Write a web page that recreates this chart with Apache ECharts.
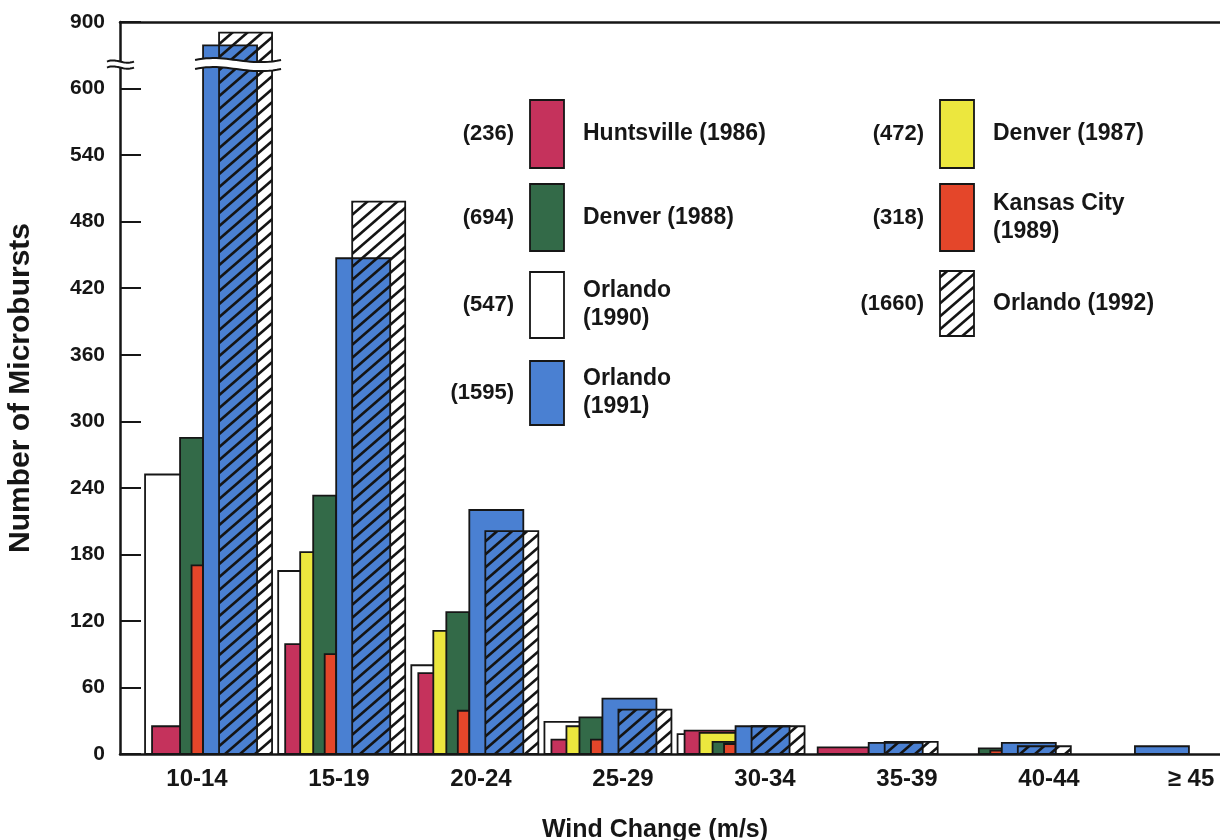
<!DOCTYPE html>
<html>
<head>
<meta charset="utf-8">
<script src="https://cdn.jsdelivr.net/npm/echarts@6/dist/echarts.min.js"></script>
<style>
  html, body { margin: 0; padding: 0; background: #ffffff; }
  #chart { width: 1220px; height: 840px; }
</style>
</head>
<body>
<div id="chart"></div>
<script>
// Wind-change classes (m/s)
const categories = ['10-14', '15-19', '20-24', '25-29', '30-34', '35-39', '40-44', '\u2265 45'];

// Microburst counts per wind-change class, one array per site/year
const orlando1990    = [252, 165, 80, 29, 18, 0, 0, 0];
const huntsville1986 = [25, 99, 73, 13, 21, 6, 0, 0];
const denver1987     = [0, 182, 111, 25, 19, 0, 0, 0];
const denver1988     = [285, 233, 128, 33, 11, 0, 5, 0];
const kansasCity1989 = [170, 90, 39, 13, 9, 0, 3, 0];
const orlando1991    = [795, 447, 220, 50, 25, 10, 10, 7];
const orlando1992    = [852, 498, 201, 40, 25, 11, 7, 0];

// Legend entries: label and total number of events
const legendLabels = ['Huntsville (1986)', 'Denver (1988)', 'Orlando\n(1990)', 'Orlando\n(1991)',
                      'Denver (1987)', 'Kansas City\n(1989)', 'Orlando (1992)'];
const legendTotals = [236, 694, 547, 1595, 472, 318, 1660];

// y-axis tick values; the axis is broken above 600 and resumes at 900
const yTickValues = [0, 60, 120, 180, 240, 300, 360, 420, 480, 540, 600, 900];

// ---- axis break: values above 600 are squeezed so 600..900 spans one tick step
const BREAK_AT = 600;
const STEP = 60;
const TOP_VALUE = yTickValues[yTickValues.length - 1];
const SQUEEZE = (TOP_VALUE - BREAK_AT) / STEP;
const toAxis = v => (v <= BREAK_AT ? v : BREAK_AT + (v - BREAK_AT) / SQUEEZE);
const AXIS_MAX = toAxis(TOP_VALUE);

// diagonal hatch used for Orlando (1992)
function makeHatch() {
  const w = 15, h = 13;
  const c = document.createElement('canvas');
  c.width = w; c.height = h;
  const g = c.getContext('2d');
  g.strokeStyle = '#141414';
  g.lineWidth = 2.6;
  g.lineCap = 'square';
  const seg = (x0, y0, x1, y1) => { g.beginPath(); g.moveTo(x0, y0); g.lineTo(x1, y1); g.stroke(); };
  seg(0, h, w, 0);
  seg(-w, h, 0, 0);
  seg(w, h, 2 * w, 0);
  return c;
}
const hatchFill = { image: makeHatch(), repeat: 'repeat' };

const FONT = '"Liberation Sans", Arial, Helvetica, sans-serif';
const INK = '#161616';

// drawing order (back to front) and horizontal placement inside each class, px from class centre
const barSpecs = [
  { name: 'Orlando (1990)',     values: orlando1990,    fill: '#ffffff', l: -64.5, r: -6.5 },
  { name: 'Huntsville (1986)',  values: huntsville1986, fill: '#c5325c', l: -57.5, r: -6.5 },
  { name: 'Denver (1987)',      values: denver1987,     fill: '#ece73e', l: -42.5, r: -6.5 },
  { name: 'Denver (1988)',      values: denver1988,     fill: '#336a48', l: -29.5, r: -6.5 },
  { name: 'Kansas City (1989)', values: kansasCity1989, fill: '#e4462a', l: -18,   r: -6.5 },
  { name: 'Orlando (1991)',     values: orlando1991,    fill: '#4a80d2', l: -6.5,  r: 47.5 },
  { name: 'Orlando (1992)',     values: orlando1992,    fill: hatchFill, l: 9.5,   r: 62.5 }
];

const series = barSpecs.map(spec => ({
  type: 'custom',
  name: spec.name,
  coordinateSystem: 'cartesian2d',
  xAxisIndex: 3,
  yAxisIndex: 2,
  encode: { x: 0, y: 1 },
  data: spec.values.map((v, i) => [i, toAxis(v)]),
  renderItem: (params, api) => {
    const v = api.value(1);
    if (!(v > 0)) return null;
    const base = api.coord([api.value(0), 0]);
    const top = api.coord([api.value(0), v]);
    const x0 = base[0] + spec.l, x1 = base[0] + spec.r;
    return {
      type: 'rect',
      shape: { x: x0, y: top[1], width: x1 - x0, height: base[1] - top[1] },
      style: { fill: spec.fill, stroke: INK, lineWidth: 1.8 }
    };
  }
}));

const GRID_TOP = 22, GRID_BOTTOM = 86;

const chart = echarts.init(document.getElementById('chart'), null, { renderer: 'canvas' });

chart.setOption({
  animation: false,
  backgroundColor: '#ffffff',
  grid: [
    { left: 120, right: 0, top: GRID_TOP, bottom: GRID_BOTTOM, outerBoundsMode: 'none' },     // frame and y axis
    { left: 126, width: 1136, top: GRID_TOP, bottom: GRID_BOTTOM, outerBoundsMode: 'none' },  // class labels
    { left: 143, width: 1065, top: GRID_TOP, bottom: GRID_BOTTOM, outerBoundsMode: 'none' }   // bars
  ],
  xAxis: [
    {
      gridIndex: 0, type: 'value', min: 0, max: 1, position: 'bottom',
      axisLine: { show: true, onZero: false, lineStyle: { color: INK, width: 2.5 } },
      axisTick: { show: false }, axisLabel: { show: false }, splitLine: { show: false },
      name: 'Wind Change (m/s)', nameLocation: 'middle', nameGap: 64,
      nameTextStyle: { fontFamily: FONT, fontWeight: 'bold', fontSize: 25, color: INK, padding: [0, 30, 0, 0] }
    },
    {
      gridIndex: 0, type: 'value', min: 0, max: 1, position: 'top',
      axisLine: { show: true, onZero: false, lineStyle: { color: INK, width: 2.5 } },
      axisTick: { show: false }, axisLabel: { show: false }, splitLine: { show: false }
    },
    {
      gridIndex: 1, type: 'category', data: categories,
      axisLine: { show: false }, axisTick: { show: false }, splitLine: { show: false },
      axisLabel: { margin: 13, fontFamily: FONT, fontWeight: 'bold', fontSize: 24, color: INK }
    },
    {
      gridIndex: 2, type: 'category', data: categories, show: false
    }
  ],
  yAxis: [
    {
      gridIndex: 0, type: 'value', min: 0, max: AXIS_MAX, interval: STEP,
      axisLine: { show: true, lineStyle: { color: INK, width: 2.5 } },
      axisTick: { show: true, inside: true, length: 21, lineStyle: { color: INK, width: 2 } },
      splitLine: { show: false },
      axisLabel: {
        margin: 15, fontFamily: FONT, fontWeight: 'bold', fontSize: 21, color: INK,
        formatter: v => {
          const i = Math.round(v / STEP);
          return i < yTickValues.length ? String(yTickValues[i]) : '';
        }
      },
      name: 'Number of Microbursts', nameLocation: 'middle', nameGap: 84, nameRotate: 90,
      nameTextStyle: { fontFamily: FONT, fontWeight: 'bold', fontSize: 30, color: INK }
    },
    { gridIndex: 1, type: 'value', min: 0, max: AXIS_MAX, show: false },
    { gridIndex: 2, type: 'value', min: 0, max: AXIS_MAX, show: false }
  ],
  series: series
});

// ---- break marks: a white band between two wavy lines
function wavePoints(x0, x1, y, amp) {
  const pts = [];
  const n = 24;
  for (let k = 0; k <= n; k++) {
    const t = k / n;
    // cubic Bezier from (x0,y) to (x1,y) with control points pulled up then down
    const cy1 = y - amp, cy2 = y + amp;
    const mt = 1 - t;
    const px = mt * mt * mt * x0 + 3 * mt * mt * t * (x0 + (x1 - x0) * 0.35) +
               3 * mt * t * t * (x0 + (x1 - x0) * 0.6) + t * t * t * x1;
    const py = mt * mt * mt * y + 3 * mt * mt * t * cy1 + 3 * mt * t * t * cy2 + t * t * t * y;
    pts.push([px, py]);
  }
  return pts;
}
function squiggle(x0, x1, yc, gap, amp) {
  const upper = wavePoints(x0, x1, yc - gap / 2, amp);
  const lower = wavePoints(x0, x1, yc + gap / 2, amp);
  return [
    { type: 'polygon', z: 100, shape: { points: upper.concat(lower.slice().reverse()) },
      style: { fill: '#ffffff', stroke: null } },
    { type: 'polyline', z: 101, shape: { points: upper }, style: { fill: null, stroke: INK, lineWidth: 2 } },
    { type: 'polyline', z: 101, shape: { points: lower }, style: { fill: null, stroke: INK, lineWidth: 2 } }
  ];
}

const breakY = chart.convertToPixel({ yAxisIndex: 0 }, BREAK_AT + STEP * 0.36);
const axisX = chart.convertToPixel({ gridIndex: 0 }, [0, 0])[0];
const firstClassX = chart.convertToPixel({ xAxisIndex: 3 }, 0);
const breakMarks = []
  .concat(squiggle(axisX - 13, axisX + 14, breakY, 6, 4))
  .concat(squiggle(firstClassX + barSpecs[5].l - 8, firstClassX + barSpecs[6].r + 9, breakY, 9, 7));

// ---- legend: two columns of tall swatches, totals to the left, labels to the right
const legendFills = ['#c5325c', '#336a48', '#ffffff', '#4a80d2', '#ece73e', '#e4462a', hatchFill];
const legendSlots = [
  { x: 530, y: 100, h: 68 }, { x: 530, y: 184, h: 67 }, { x: 530, y: 272, h: 66 }, { x: 530, y: 361, h: 64 },
  { x: 940, y: 100, h: 68 }, { x: 940, y: 184, h: 67 }, { x: 940, y: 271, h: 65 }
];
const legendItems = [];
legendSlots.forEach((s, i) => {
  const cy = s.y + s.h / 2;
  legendItems.push({
    type: 'rect', z: 100,
    shape: { x: s.x, y: s.y, width: 34, height: s.h },
    style: { fill: legendFills[i], stroke: INK, lineWidth: 1.8 }
  });
  legendItems.push({
    type: 'text', z: 100, x: s.x - 16, y: cy,
    style: { text: '(' + legendTotals[i] + ')', fill: INK, font: `bold 22px ${FONT}`,
             align: 'right', verticalAlign: 'middle' }
  });
  legendItems.push({
    type: 'text', z: 100, x: s.x + 53, y: cy,
    style: { text: legendLabels[i], fill: INK, font: `bold 23px ${FONT}`, lineHeight: 28,
             align: 'left', verticalAlign: 'middle' }
  });
});

chart.setOption({ graphic: { elements: breakMarks.concat(legendItems) } });
</script>
</body>
</html>
